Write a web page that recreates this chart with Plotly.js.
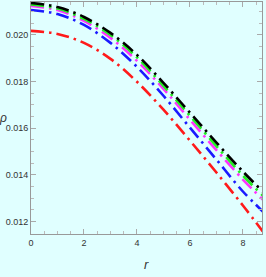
<!DOCTYPE html>
<html>
<head>
<meta charset="utf-8">
<script src="https://cdn.plot.ly/plotly-3.0.1.min.js"></script>
<style>html,body{margin:0;padding:0;background:#E0FFFF;}#chart{width:266px;height:277px;}</style>
</head>
<body>
<div id="chart"></div>
<script>
const r = [0, 1, 2, 3, 4, 5, 6, 7, 8, 8.75];
const rhoBlack   = [0.021368, 0.021197, 0.020769, 0.020085, 0.019145, 0.017949, 0.016667, 0.015385, 0.014145, 0.013291];
const rhoGreen   = [0.021303, 0.021132, 0.020684, 0.020000, 0.019038, 0.017821, 0.016538, 0.015235, 0.013974, 0.013120];
const rhoMagenta = [0.021239, 0.021068, 0.020598, 0.019872, 0.018889, 0.017692, 0.016368, 0.015064, 0.013803, 0.012949];
const rhoBlue    = [0.021068, 0.020897, 0.020427, 0.019658, 0.018632, 0.017393, 0.016026, 0.014658, 0.013291, 0.012436];
const rhoRed     = [0.020171, 0.020043, 0.019658, 0.018974, 0.017991, 0.016795, 0.015470, 0.014103, 0.012692, 0.011581];
const xTicks = [0, 2, 4, 6, 8];
const yTicks = [0.012, 0.014, 0.016, 0.018, 0.020];
const yTickText = ["0.012", "0.014", "0.016", "0.018", "0.020"];

const dashStyle = "13px,5px,2.5px,5px";
function tr(y, color) {
  return {x: r, y: y, type: "scatter", mode: "lines",
    line: {color: color, width: 2.6, dash: dashStyle, shape: "spline"},
    hoverinfo: "skip", showlegend: false};
}
const data = [
  tr(rhoRed, "#FF1A1A"),
  tr(rhoBlue, "#1A1AFF"),
  tr(rhoMagenta, "#FF33FF"),
  tr(rhoGreen, "#22EE22"),
  tr(rhoBlack, "#000000")
];
const axisCommon = {
  showgrid: false, zeroline: false, showline: true, linecolor: "#999999", linewidth: 1,
  mirror: "ticks", ticks: "inside", ticklen: 5, tickwidth: 1, tickcolor: "#aaaaaa",
  tickfont: {family: "Liberation Sans Narrow, Liberation Sans, sans-serif", size: 9, color: "#333333"}
};
const layout = {
  width: 266, height: 277,
  margin: {l: 31, r: 4, t: 2, b: 43},
  paper_bgcolor: "#E0FFFF", plot_bgcolor: "#E0FFFF",
  xaxis: Object.assign({}, axisCommon, {
    range: [0, 8.72], tickvals: xTicks, ticktext: xTicks.map(String),
    minor: {dtick: 0.5, ticklen: 3, tickcolor: "#bbbbbb", ticks: "inside"}
  }),
  yaxis: Object.assign({}, axisCommon, {
    range: [0.01147, 0.02141], tickvals: yTicks, ticktext: yTickText,
    minor: {dtick: 0.0005, tick0: 0.012, ticklen: 3, tickcolor: "#bbbbbb", ticks: "inside"}
  }),
  annotations: [
    {text: "<i>r</i>", xref: "paper", yref: "paper", x: 0.5, y: -0.13, showarrow: false,
     xanchor: "center", yanchor: "middle",
     font: {family: "Liberation Sans, sans-serif", size: 13, color: "#333333"}},
    {text: "<i>ρ</i>", xref: "paper", yref: "paper", x: -0.12, y: 0.5, showarrow: false,
     xanchor: "center", yanchor: "middle",
     font: {family: "Liberation Sans, sans-serif", size: 12, color: "#333333"}}
  ]
};
Plotly.newPlot("chart", data, layout, {displayModeBar: false, staticPlot: true});
</script>
</body>
</html>
